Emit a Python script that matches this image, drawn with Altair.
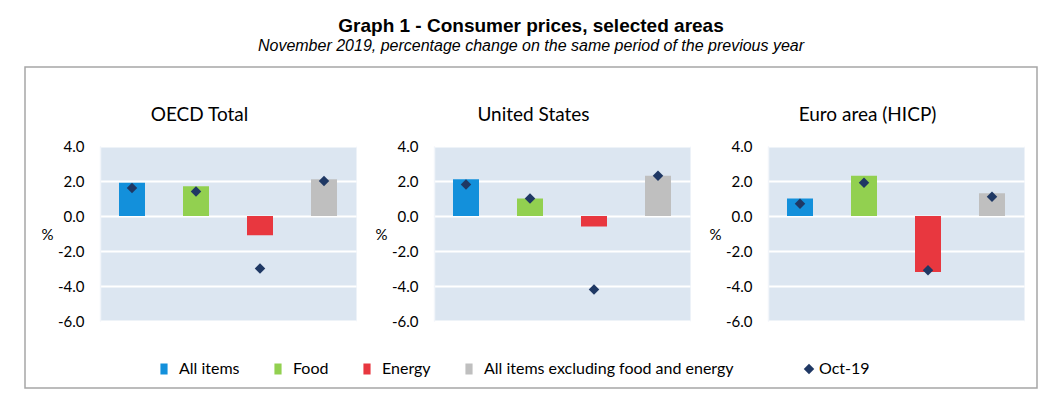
import altair as alt
import pandas as pd

# ---- data ----
categories = ["All items", "Food", "Energy", "All items excluding food and energy"]
areas = ["OECD Total", "United States", "Euro area (HICP)"]

oecd_nov = [1.9, 1.7, -1.1, 2.1]
oecd_oct = [1.6, 1.4, -3.0, 2.0]
us_nov = [2.1, 1.0, -0.6, 2.3]
us_oct = [1.8, 1.0, -4.2, 2.3]
euro_nov = [1.0, 2.3, -3.2, 1.3]
euro_oct = [0.7, 1.9, -3.1, 1.1]

oct_label = "Oct-19"
y_ticks = [-6, -4, -2, 0, 2, 4]

bar_colors = ["#1390DB", "#92D050", "#E8373F", "#BFBFBF"]
diamond_color = "#1F3864"
panel_bg = "#DCE6F1"

series = {
    "OECD Total": (oecd_nov, oecd_oct),
    "United States": (us_nov, us_oct),
    "Euro area (HICP)": (euro_nov, euro_oct),
}

W, H = 256, 175
FONT = "Lato"

y_axis = alt.Axis(
    values=y_ticks,
    labelExpr="(datum.value < 0 ? '-' : '') + format(abs(datum.value), '.1f')",
    title="%",
    titleAngle=0,
    titleX=-53,
    titleY=88,
    titleAlign="center",
    titleBaseline="middle",
    titleFont=FONT,
    titleFontSize=15,
    titleFontWeight="normal",
    labelFont=FONT,
    labelFontSize=15,
    labelColor="#000000",
    titleColor="#000000",
    labelPadding=16,
    ticks=False,
    domain=True,
    domainColor="#F2F5FA",
    domainWidth=1.5,
    grid=True,
    gridColor="#FFFFFF",
    gridWidth=2,
)


def panel(i, name):
    nov, octv = series[name]
    df = pd.DataFrame({
        "category": categories,
        "nov": nov,
        "oct": octv,
        "series": [oct_label] * len(categories),
    })
    x_enc = alt.X(
        "category:N",
        sort=categories,
        scale=alt.Scale(domain=categories, paddingInner=0, paddingOuter=0),
        axis=alt.Axis(
            orient="top", labels=False, ticks=False, domain=False, grid=False,
            title=name, titleFont=FONT, titleFontSize=19, titleFontWeight="normal",
            titleColor="#000000", titleX=W / 2 - 29, titleY=-32,
            titleAlign="center", titleBaseline="middle",
        ),
    )
    base = alt.Chart(df).encode(x=x_enc)
    bars = base.mark_bar(size=26).encode(
        y=alt.Y("nov:Q", scale=alt.Scale(domain=[-6, 4], nice=False), axis=y_axis),
        color=alt.Color(
            "category:N",
            scale=alt.Scale(domain=categories, range=bar_colors),
            legend=alt.Legend(
                title=None, orient="none", direction="horizontal",
                legendX=56, legendY=215,
                symbolType="M-0.65,-1L0.65,-1L0.65,1L-0.65,1Z",
                symbolSize=121, symbolStrokeWidth=0, symbolOpacity=1,
                labelFont=FONT, labelFontSize=16, labelColor="#000000",
                labelOffset=7, columnPadding=30, labelLimit=400,
            ),
        ),
    )
    points = base.mark_point(filled=True, color=diamond_color, size=110, opacity=1).encode(
        y=alt.Y("oct:Q", scale=alt.Scale(domain=[-6, 4], nice=False), axis=y_axis),
        shape=alt.Shape(
            "series:N",
            scale=alt.Scale(domain=[oct_label], range=["diamond"]),
            legend=alt.Legend(
                title=None, orient="none", direction="horizontal",
                legendX=701, legendY=215,
                symbolFillColor=diamond_color, symbolStrokeColor=diamond_color,
                symbolSize=110, labelFont=FONT, labelFontSize=16,
                labelColor="#000000", labelOffset=2,
            ),
        ),
    )
    layers = [bars, points]
    if i == 0:
        frame = alt.Chart(pd.DataFrame({"k": [0]})).mark_rect(
            fillOpacity=0, stroke="#A6A6A6", strokeWidth=1.5
        ).encode(
            x=alt.value(-75), x2=alt.value(937), y=alt.value(-79), y2=alt.value(242)
        )
        layers = [frame] + layers
    return alt.layer(*layers).properties(
        width=W, height=H,
        view=alt.ViewBackground(fill=panel_bg, stroke="transparent"),
    )


chart = alt.hconcat(
    *[panel(i, n) for i, n in enumerate(areas)],
    spacing=78,
    bounds="flush",
).properties(
    title=alt.TitleParams(
        text="Graph 1 - Consumer prices, selected areas",
        subtitle="November 2019, percentage change on the same period of the previous year",
        font="Liberation Sans", fontSize=19, fontWeight="bold", color="#000000",
        subtitleFont="Liberation Sans", subtitleFontSize=16, subtitleFontStyle="italic",
        subtitleColor="#000000", subtitlePadding=2, anchor="middle", offset=12,
    ),
    padding={"left": 15, "top": 8, "right": 5, "bottom": 5},
).configure_view(
    fill=panel_bg, stroke="transparent"
).configure(background="#FFFFFF")

chart.save("out.html", embed_options={"renderer": "svg", "actions": False})
